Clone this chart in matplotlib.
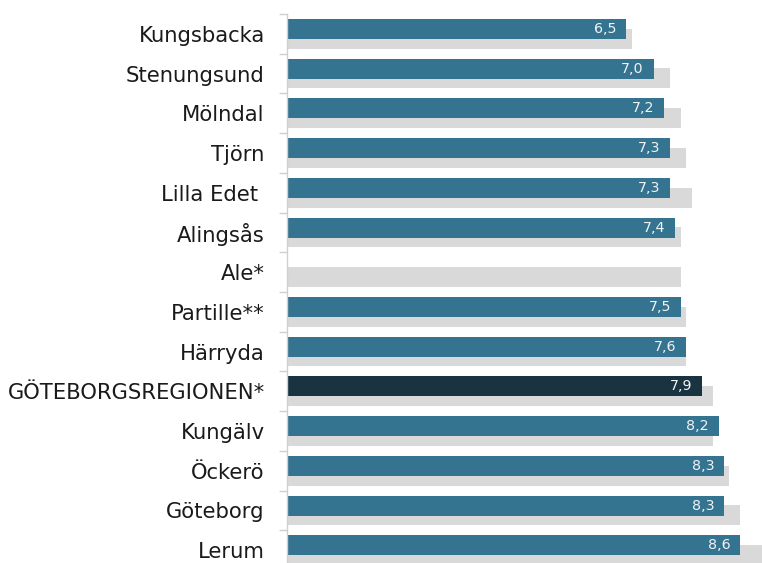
import numpy as np
import matplotlib
matplotlib.use("Agg")
import matplotlib.pyplot as plt
from matplotlib.ticker import FixedLocator

# ==== DATA ====
kommuner = ["Kungsbacka", "Stenungsund", "Mölndal", "Tjörn", "Lilla Edet ", "Alingsås",
            "Ale*", "Partille**", "Härryda", "GÖTEBORGSREGIONEN*", "Kungälv", "Öckerö",
            "Göteborg", "Lerum"]
varde_nu = [6.5, 7.0, 7.2, 7.3, 7.3, 7.4, np.nan, 7.5, 7.6, 7.9, 8.2, 8.3, 8.3, 8.6]
varde_fore = [6.6, 7.3, 7.5, 7.6, 7.7, 7.5, 7.5, 7.6, 7.6, 8.1, 8.1, 8.4, 8.6, 9.0]
region_namn = "GÖTEBORGSREGIONEN*"

# ==== STYLE ====
blue = "#357490"
dark = "#1a3340"
grey = "#d9d9d9"
plt.rcParams['font.family'] = ['DejaVu Sans']

fig = plt.figure(figsize=(7.62, 5.63), dpi=100)
ax = fig.add_axes([287 / 762, -7 / 563, 475 / 762, 556 / 563])

pos = np.arange(len(kommuner))
off = 0.122
h = 0.504

# grey bars (jamforelse) behind, shifted down a bit
ax.barh(pos + off, varde_fore, height=h, color=grey, zorder=1)
colors = [dark if k == region_namn else blue for k in kommuner]
ax.barh(pos - off, varde_nu, height=h, color=colors, zorder=2)

xmin = 0.24
for p, v in zip(pos, varde_nu):
    if np.isnan(v):
        continue
    ax.annotate(f"{v:.1f}".replace(".", ","), xy=(v, p - off), xytext=(-7, 0),
                textcoords="offset points", ha="right", va="center",
                color="#f2f2f2", fontsize=10.3, zorder=3)

ax.set_xlim(xmin, 9.0)
ax.set_ylim(len(kommuner) - 0.5, -0.5)

ax.set_yticks(pos)
ax.set_yticklabels(kommuner, fontsize=15.2, color="#1a1a1a")
ax.tick_params(axis="y", which="major", length=0, pad=16)
ax.yaxis.set_minor_locator(FixedLocator(np.arange(-0.5, len(kommuner), 1.0)))
ax.tick_params(axis="y", which="minor", length=6, color="#d0d0d0", width=1)
ax.set_xticks([])

for s in ["top", "right", "bottom"]:
    ax.spines[s].set_visible(False)
ax.spines["left"].set_color("#d0d0d0")
ax.spines["left"].set_linewidth(1)

fig.savefig("out.png", dpi=100)
